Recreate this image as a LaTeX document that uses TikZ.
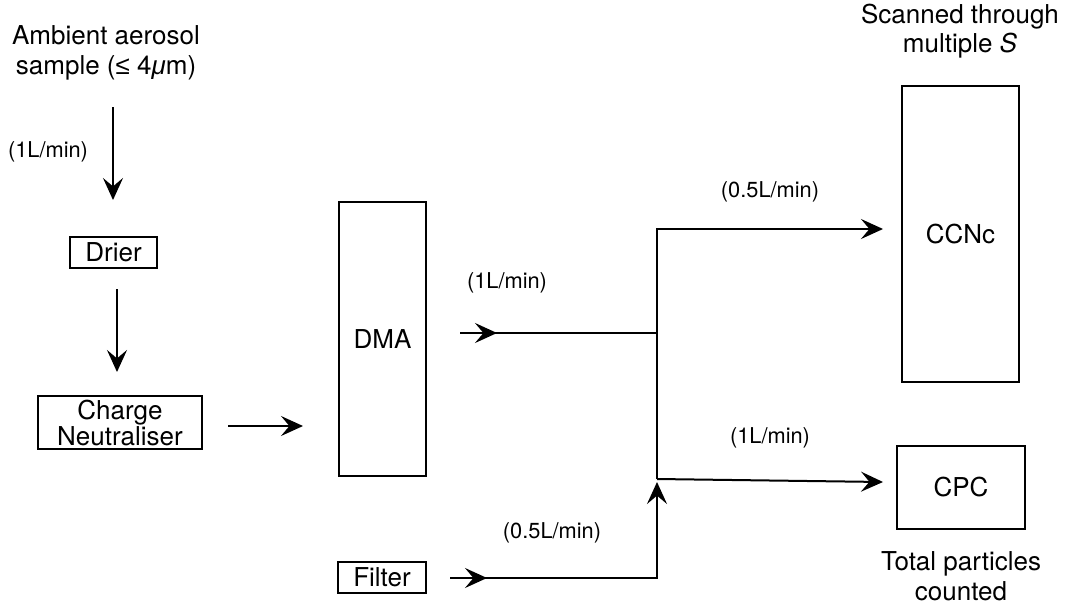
\documentclass[tikz,border=0pt]{standalone}
\usepackage{fontspec}
\setmainfont{TeX Gyre Heros}
\newfontfamily\symfont{Liberation Sans}
\usetikzlibrary{arrows.meta}

\tikzset{
  mainlabel/.style={font=\fontsize{13}{14.8}\selectfont, align=center, inner sep=0pt},
  flowlabel/.style={font=\fontsize{10.9}{13}\selectfont, inner sep=0pt},
  unit/.style={draw, line width=0.9pt, inner sep=0pt, font=\fontsize{13}{16}\selectfont, align=center},
  flow/.style={line width=1pt, -{Stealth[length=11pt,width=10pt,inset=4.2pt]}},
  pipe/.style={line width=1pt}
}

\begin{document}
\begin{tikzpicture}[x=0.5pt,y=-0.5pt]
  \useasboundingbox (0,0) rectangle (1070,605);

  % free text
  \node[mainlabel] (amb) at (106,53) {Ambient aerosol\\sample ({\symfont ≤} 4{\symfont\itshape μ}m)};
  \node[mainlabel] (scan) at (960,31) {Scanned through\\multiple \textit{S}};
  \node[mainlabel] (total) at (961,576) {Total particles\\counted};

  % instrument boxes
  \node[unit, minimum width=43.5pt, minimum height=15.5pt] (drier) at (113.5,252.5) {Drier};
  \node[unit, minimum width=82pt, minimum height=26.5pt] (charge) at (120,422.5) {Charge\\[-3pt]Neutraliser};
  \node[unit, minimum width=43.5pt, minimum height=137pt] (dma) at (382.5,339) {DMA};
  \node[unit, minimum width=44pt, minimum height=15.5pt] (filter) at (382,577.5) {Filter};
  \node[unit, minimum width=58.5pt, minimum height=148pt] (ccnc) at (960.5,234) {CCNc};
  \node[unit, minimum width=64pt, minimum height=41.5pt] (cpc) at (961,487.5) {CPC};

  % flow rates
  \node[flowlabel] (q1) at (48,152) {(1L/min)};
  \node[flowlabel] (q2) at (507,283) {(1L/min)};
  \node[flowlabel] (q3) at (770,192) {(0.5L/min)};
  \node[flowlabel] (q4) at (770,438) {(1L/min)};
  \node[flowlabel] (q5) at (552,533) {(0.5L/min)};

  % connector end points
  \coordinate (a1) at (113,107);
  \coordinate (a2) at (113,200);
  \coordinate (b1) at (117,289);
  \coordinate (b2) at (117,372);
  \coordinate (c1) at (228,426);
  \coordinate (c2) at (303,426);
  \coordinate (d1) at (460,333);
  \coordinate (d2) at (497,333);
  \coordinate (jmid) at (657,333);
  \coordinate (jtop) at (657,229);
  \coordinate (jlow) at (657,479);
  \coordinate (jin) at (657,482);
  \coordinate (ccncin) at (883,229);
  \coordinate (cpcin) at (883,482);
  \coordinate (f1) at (450,578);
  \coordinate (f2) at (487,578);

  % sample line
  \draw[flow] (a1) -- (a2);
  \draw[flow] (b1) -- (b2);
  \draw[flow] (c1) -- (c2);

  % DMA outlet to the splitter
  \draw[flow] (d1) -- (d2);
  \draw[pipe] (d2) ++(-4,0) -- (jmid);

  % splitter to the counters
  \draw[flow] (jlow) -- (jtop) -- (ccncin);
  \draw[flow] (jlow) -- (cpcin);

  % filtered make-up air
  \draw[flow] (f1) -- (f2);
  \draw[flow] ([xshift=-2pt]f2) -| (jin);
\end{tikzpicture}
\end{document}
